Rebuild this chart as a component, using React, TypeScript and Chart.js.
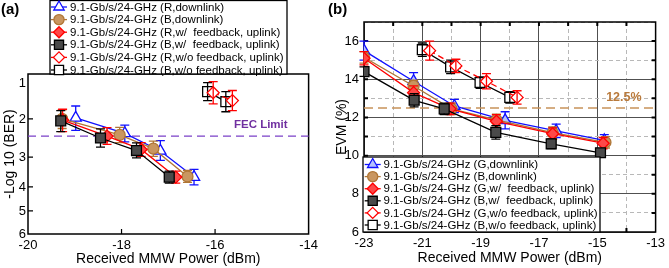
import React, { useEffect, useRef } from 'react';
import { Chart, registerables, LinearScale } from 'chart.js';
import { drawPoint } from 'chart.js/helpers';

const FONT = "'Liberation Sans', Arial, Helvetica, sans-serif";

// ---------------- Panel (a): -Log10(BER) vs received MMW power ----------------
const berLabels = [
  '9.1-Gb/s/24-GHz (R,downlink)',
  '9.1-Gb/s/24-GHz (B,downlink)',
  '9.1-Gb/s/24-GHz (R,w/  feedback, uplink)',
  '9.1-Gb/s/24-GHz (B,w/  feedback, uplink)',
  '9.1-Gb/s/24-GHz (R,w/o feedback, uplink)',
  '9.1-Gb/s/24-GHz (B,w/o feedback, uplink)',
];
const berBlueX = [-18.98, -17.93, -17.17, -16.45];
const berBlueY = [1.97, 2.38, 2.84, 3.67];
const berBlueErr = [0.33, 0.22, 0.27, 0.26];
const berTanX = [-19.27, -18.04, -17.32, -16.59];
const berTanY = [2.0, 2.42, 2.78, 3.65];
const berTanErr = [0.25, 0.2, 0.2, 0.2];
const berRedX = [-19.26, -18.31, -17.58, -16.84];
const berRedY = [2.03, 2.45, 2.8, 3.67];
const berRedErr = [0.3, 0.22, 0.18, 0.2];
const berBlackX = [-19.3, -18.45, -17.68, -16.98];
const berBlackY = [2.05, 2.5, 2.83, 3.67];
const berBlackErr = [0.28, 0.24, 0.2, 0.2];
const berRedOpenX = [-16.04, -15.63];
const berRedOpenY = [1.27, 1.49];
const berRedOpenErr = [0.31, 0.28];
const berBlackOpenX = [-16.16, -15.77];
const berBlackOpenY = [1.24, 1.52];
const berBlackOpenErr = [0.25, 0.28];
const berXTicks = [-20, -18, -16, -14];
const berYTicks = [1, 2, 3, 4, 5, 6];
const fecLimit = 2.45;

// ---------------- Panel (b): EVM vs received MMW power ----------------
const evmLabels = [
  '9.1-Gb/s/24-GHz (G,downlink)',
  '9.1-Gb/s/24-GHz (B,downlink)',
  '9.1-Gb/s/24-GHz (G,w/  feedback, uplink)',
  '9.1-Gb/s/24-GHz (B,w/  feedback, uplink)',
  '9.1-Gb/s/24-GHz (G,w/o feedback, uplink)',
  '9.1-Gb/s/24-GHz (B,w/o feedback, uplink)',
];
const evmBlueX = [-23, -21.3, -19.9, -18.16, -16.41, -14.76];
const evmBlueY = [15.5, 13.9, 12.6, 11.85, 11.3, 10.8];
const evmBlueErr = [0.5, 0.45, 0.35, 0.45, 0.35, 0.3];
const evmTanX = [-23, -21.3, -20.0, -18.46, -16.53, -14.72];
const evmTanY = [15.15, 13.65, 12.45, 11.87, 11.2, 10.7];
const evmTanErr = [0.3, 0.3, 0.3, 0.3, 0.3, 0.3];
const evmRedX = [-23, -21.3, -20.05, -18.46, -16.53, -14.8];
const evmRedY = [15.1, 13.3, 12.45, 11.8, 11.15, 10.65];
const evmRedErr = [0.35, 0.35, 0.3, 0.35, 0.3, 0.3];
const evmBlackX = [-23, -21.28, -20.25, -18.48, -16.58, -14.89];
const evmBlackY = [14.4, 12.9, 12.45, 11.22, 10.62, 10.15];
const evmBlackErr = [0.25, 0.35, 0.3, 0.35, 0.25, 0.2];
const evmRedOpenX = [-20.75, -19.85, -18.8, -17.75];
const evmRedOpenY = [15.5, 14.7, 13.9, 13.05];
const evmRedOpenErr = [0.5, 0.35, 0.4, 0.35];
const evmBlackOpenX = [-21.0, -20.03, -19.02, -18.0];
const evmBlackOpenY = [15.55, 14.65, 13.83, 13.05];
const evmBlackOpenErr = [0.35, 0.35, 0.3, 0.3];
const evmLimit = 12.5;

// ---------------- BER axis (non-uniform -log10 BER scale) ----------------
const BER_ANCHOR_VALUES = [0.75, 1, 2, 3, 4, 5, 6];
const BER_ANCHOR_FRACTIONS = [1, 0.944, 0.719, 0.481, 0.294, 0.144, 0];

function piecewise(xs: number[], ys: number[], v: number) {
  const n = xs.length;
  const asc = xs[n - 1] > xs[0];
  let i = 0;
  while (i < n - 2 && (asc ? v > xs[i + 1] : v < xs[i + 1])) i++;
  const t = (v - xs[i]) / (xs[i + 1] - xs[i]);
  return ys[i] + t * (ys[i + 1] - ys[i]);
}

class BerScale extends LinearScale {
  static id = 'ber';
  static defaults = LinearScale.defaults;
  getPixelForValue(value: any) {
    if (value === null || value === undefined || isNaN(value)) return NaN;
    return this.getPixelForDecimal(piecewise(BER_ANCHOR_VALUES, BER_ANCHOR_FRACTIONS, value));
  }
  getValueForPixel(pixel: number) {
    return piecewise(BER_ANCHOR_FRACTIONS, BER_ANCHOR_VALUES, this.getDecimalForPixel(pixel));
  }
}

Chart.register(...registerables, BerScale as any);

// ---------------- plugins ----------------
function drawErrors(chart: any, index: number) {
  const ds = chart.data.datasets[index];
  const errs: number[] = ds.errors;
  if (!errs) return;
  const { ctx } = chart;
  const xs = chart.scales.x;
  const ys = chart.scales.y;
  const cap = 4.5;
  ctx.save();
  ctx.strokeStyle = ds.borderColor;
  ctx.lineWidth = 1.3;
  ctx.setLineDash([]);
  ds.data.forEach((p: any, j: number) => {
    const e = errs[j];
    const px = xs.getPixelForValue(p.x);
    const y1 = ys.getPixelForValue(p.y + e);
    const y2 = ys.getPixelForValue(p.y - e);
    ctx.beginPath();
    ctx.moveTo(px, y1);
    ctx.lineTo(px, y2);
    ctx.moveTo(px - cap, y1);
    ctx.lineTo(px + cap, y1);
    ctx.moveTo(px - cap, y2);
    ctx.lineTo(px + cap, y2);
    ctx.stroke();
  });
  ctx.restore();
}

const errorBarPlugin = {
  id: 'errorBars',
  beforeDatasetDraw(chart: any, args: any) {
    if (!chart.data.datasets[args.index].errOnTop) drawErrors(chart, args.index);
  },
  afterDatasetDraw(chart: any, args: any) {
    if (chart.data.datasets[args.index].errOnTop) drawErrors(chart, args.index);
  },
};

const framePlugin = {
  id: 'frame',
  beforeDatasetsDraw(chart: any, _args: any, o: any) {
    const { ctx, chartArea: a } = chart;
    ctx.save();
    ctx.strokeStyle = '#000';
    ctx.setLineDash([]);
    ctx.lineWidth = o.tickWidth;
    const len = o.tickLength;
    const skip: number[] = o.skip || [];
    const xs = chart.scales.x;
    const ys = chart.scales.y;
    ctx.beginPath();
    xs.ticks.forEach((t: any) => {
      const px = xs.getPixelForValue(t.value);
      if (px <= a.left + 1 || px >= a.right - 1) return;
      if (o.xSides.includes('bottom')) { ctx.moveTo(px, a.bottom); ctx.lineTo(px, a.bottom - len); }
      if (o.xSides.includes('top')) { ctx.moveTo(px, a.top); ctx.lineTo(px, a.top + len); }
    });
    ys.ticks.forEach((t: any) => {
      if (skip.includes(t.value)) return;
      const py = ys.getPixelForValue(t.value);
      if (py <= a.top + 1 || py >= a.bottom - 1) return;
      if (o.ySides.includes('left')) { ctx.moveTo(a.left, py); ctx.lineTo(a.left + len, py); }
      if (o.ySides.includes('right')) { ctx.moveTo(a.right, py); ctx.lineTo(a.right - len, py); }
    });
    ctx.stroke();
    ctx.lineWidth = o.lineWidth;
    ctx.strokeRect(a.left, a.top, a.right - a.left, a.bottom - a.top);
    ctx.restore();
  },
};

const refLinePlugin = {
  id: 'refLine',
  beforeDatasetsDraw(chart: any, _args: any, o: any) {
    const { ctx, chartArea: a } = chart;
    const y = chart.scales.y.getPixelForValue(o.value);
    ctx.save();
    ctx.strokeStyle = o.color;
    ctx.lineWidth = o.width;
    ctx.setLineDash(o.dash);
    ctx.beginPath();
    ctx.moveTo(a.left, y);
    ctx.lineTo(a.right, y);
    ctx.stroke();
    ctx.setLineDash([]);
    ctx.fillStyle = o.textColor;
    ctx.font = o.font;
    ctx.textAlign = 'right';
    ctx.textBaseline = 'middle';
    ctx.fillText(o.text, a.right - o.textGap, y + o.textDy);
    ctx.restore();
  },
};

const panelLabelPlugin = {
  id: 'panelLabel',
  afterDraw(chart: any, _args: any, o: any) {
    const { ctx } = chart;
    ctx.save();
    ctx.fillStyle = '#000';
    ctx.font = `bold 15px ${FONT}`;
    ctx.textAlign = 'left';
    ctx.textBaseline = 'middle';
    ctx.fillText(o.text, o.x, o.y);
    ctx.restore();
  },
};

const boxLegendPlugin = {
  id: 'boxLegend',
  afterDatasetsDraw(chart: any, _args: any, o: any) {
    const { ctx } = chart;
    ctx.save();
    ctx.fillStyle = '#fff';
    ctx.fillRect(o.x, o.y, o.w, o.h);
    ctx.strokeStyle = '#000';
    ctx.lineWidth = 1.3;
    ctx.setLineDash([]);
    ctx.strokeRect(o.x, o.y, o.w, o.h);
    chart.data.datasets.forEach((ds: any, i: number) => {
      const cy = o.y + o.firstRow + i * o.rowH;
      ctx.strokeStyle = ds.borderColor;
      ctx.lineWidth = 1.3;
      ctx.setLineDash([]);
      ctx.beginPath();
      ctx.moveTo(o.markerX - o.lineHalf, cy);
      ctx.lineTo(o.markerX + o.lineHalf, cy);
      ctx.stroke();
      ctx.fillStyle = ds.pointBackgroundColor;
      ctx.strokeStyle = ds.pointBorderColor;
      ctx.lineWidth = ds.pointBorderWidth;
      drawPoint(ctx, { pointStyle: ds.pointStyle, rotation: 0, radius: ds.pointRadius * 0.92, borderWidth: ds.pointBorderWidth } as any, o.markerX, cy);
      ctx.fillStyle = '#000';
      ctx.font = o.font;
      ctx.textAlign = 'left';
      ctx.textBaseline = 'middle';
      ctx.fillText(ds.label, o.textX, cy + 0.5);
    });
    ctx.restore();
  },
};

// ---------------- series styles ----------------
type SeriesStyle = { color: string; pointStyle: string; fill: string; radius: number; dash?: number[]; open?: boolean };
const stylesA: SeriesStyle[] = [
  { color: '#1010ff', pointStyle: 'triangle', fill: '#ffffff', radius: 6.5 },
  { color: '#b07636', pointStyle: 'circle', fill: '#c99660', radius: 5.5 },
  { color: '#ff0000', pointStyle: 'rectRot', fill: '#ff4848', radius: 6 },
  { color: '#000000', pointStyle: 'rect', fill: '#4a4a4a', radius: 7 },
  { color: '#ff0000', pointStyle: 'rectRot', fill: '#ffffff', radius: 6, dash: [6, 4], open: true },
  { color: '#000000', pointStyle: 'rect', fill: '#ffffff', radius: 7, open: true },
];
const stylesB: SeriesStyle[] = stylesA.map((s, i) => (i === 0 ? { ...s, fill: '#b4c0ff' } : s));
const drawOrder = [6, 5, 4, 3, 1, 2];

function buildDatasets(labels: string[], xs: number[][], ys: number[][], errs: number[][], styles: SeriesStyle[]) {
  return labels.map((label, i) => ({
    label,
    data: xs[i].map((x, j) => ({ x, y: ys[i][j] })),
    errors: errs[i],
    errOnTop: !!styles[i].open,
    showLine: true,
    borderColor: styles[i].color,
    borderWidth: 1.3,
    borderDash: styles[i].dash || [],
    pointStyle: styles[i].pointStyle,
    pointRadius: styles[i].radius,
    pointHoverRadius: styles[i].radius,
    pointBackgroundColor: styles[i].fill,
    pointBorderColor: styles[i].color,
    pointBorderWidth: 1.3,
    order: drawOrder[i],
  }));
}

const tickFont = { family: FONT, size: 13 };
const titleFont = { family: FONT, size: 14 };

function configA(): any {
  return {
    type: 'scatter',
    data: {
      datasets: buildDatasets(
        berLabels,
        [berBlueX, berTanX, berRedX, berBlackX, berRedOpenX, berBlackOpenX],
        [berBlueY, berTanY, berRedY, berBlackY, berRedOpenY, berBlackOpenY],
        [berBlueErr, berTanErr, berRedErr, berBlackErr, berRedOpenErr, berBlackOpenErr],
        stylesA,
      ),
    },
    options: {
      responsive: false,
      animation: false,
      devicePixelRatio: 1,
      layout: { padding: { left: 0, top: 74, right: 12, bottom: 0 } },
      plugins: {
        legend: { display: false },
        tooltip: { enabled: false },
        frame: { lineWidth: 1.5, tickWidth: 1.2, tickLength: 5, xSides: ['bottom'], ySides: ['left'], skip: [1] },
        refLine: {
          value: fecLimit, color: '#7b40c8', width: 1.3, dash: [8, 5],
          text: 'FEC Limit', textColor: '#7030a0', font: `bold 11.5px ${FONT}`, textGap: 21, textDy: -11.5,
        },
        panelLabel: { text: '(a)', x: 1, y: 10 },
        boxLegend: {
          x: 50, y: 0.5, w: 237, h: 73.5, firstRow: 6.5, rowH: 12.6,
          markerX: 59, lineHalf: 8, textX: 70, font: `11.5px ${FONT}`,
        },
      },
      scales: {
        x: {
          type: 'linear',
          min: berXTicks[0],
          max: berXTicks[berXTicks.length - 1],
          afterFit: (s: any) => { s.height = 34; },
          afterBuildTicks: (s: any) => { s.ticks = berXTicks.map((v) => ({ value: v })); },
          grid: { display: false, drawTicks: false },
          border: { display: false },
          ticks: { font: tickFont, color: '#000', padding: 4, maxRotation: 0, autoSkip: false },
          title: { display: true, text: 'Received MMW Power (dBm)', font: titleFont, color: '#000', padding: 0 },
        },
        y: {
          type: 'ber',
          min: berYTicks[0],
          max: berYTicks[berYTicks.length - 1],
          afterFit: (s: any) => { s.width = 28; },
          afterBuildTicks: (s: any) => { s.ticks = berYTicks.map((v) => ({ value: v })); },
          grid: { display: false, drawTicks: false },
          border: { display: false },
          ticks: { font: tickFont, color: '#000', padding: 2, autoSkip: false },
          title: { display: true, text: '-Log 10 (BER)', font: titleFont, color: '#000', padding: { top: 2, bottom: 0 } },
        },
      },
    },
    plugins: [errorBarPlugin, framePlugin, refLinePlugin, panelLabelPlugin, boxLegendPlugin],
  };
}

const isMajorX = (v: number) => Math.abs(v) % 2 === 1;
const isMajorY = (v: number) => v % 2 === 0;

function configB(): any {
  return {
    type: 'scatter',
    data: {
      datasets: buildDatasets(
        evmLabels,
        [evmBlueX, evmTanX, evmRedX, evmBlackX, evmRedOpenX, evmBlackOpenX],
        [evmBlueY, evmTanY, evmRedY, evmBlackY, evmRedOpenY, evmBlackOpenY],
        [evmBlueErr, evmTanErr, evmRedErr, evmBlackErr, evmRedOpenErr, evmBlackOpenErr],
        stylesB,
      ),
    },
    options: {
      responsive: false,
      animation: false,
      devicePixelRatio: 1,
      layout: { padding: { left: 0, top: 22, right: 10, bottom: 0 } },
      plugins: {
        legend: { display: false },
        tooltip: { enabled: false },
        frame: { lineWidth: 1.5, tickWidth: 2, tickLength: 4, xSides: ['bottom', 'top'], ySides: ['left', 'right'] },
        refLine: {
          value: evmLimit, color: '#c8925a', width: 1.5, dash: [9, 5],
          text: '12.5%', textColor: '#b97a3c', font: `bold 12.5px ${FONT}`, textGap: 14, textDy: -10.5,
        },
        panelLabel: { text: '(b)', x: 6, y: 10 },
        boxLegend: {
          x: 41, y: 157, w: 237, h: 75, firstRow: 7.5, rowH: 12.1,
          markerX: 50.7, lineHalf: 8, textX: 61.5, font: `11.5px ${FONT}`,
        },
      },
      scales: {
        x: {
          type: 'linear',
          min: -23,
          max: -13,
          afterFit: (s: any) => { s.height = 36; },
          grid: {
            display: true, drawTicks: false, lineWidth: 1,
            color: (c: any) => (c.tick && isMajorX(c.tick.value) ? '#505050' : '#b8b8b8'),
          },
          border: { display: false, dash: (c: any) => (c.tick && !isMajorX(c.tick.value) ? [4, 3] : []) },
          ticks: {
            stepSize: 1, font: tickFont, color: '#000', padding: 4, maxRotation: 0, autoSkip: false,
            callback: (v: any) => (isMajorX(v) ? String(v) : ''),
          },
          title: { display: true, text: 'Received MMW Power (dBm)', font: titleFont, color: '#000', padding: { top: 0, bottom: 1.5 } },
        },
        y: {
          type: 'linear',
          min: 6,
          max: 17,
          afterFit: (s: any) => { s.width = 42; },
          grid: {
            display: true, drawTicks: false, lineWidth: 1,
            color: (c: any) => (c.tick && isMajorY(c.tick.value) ? '#505050' : '#b8b8b8'),
          },
          border: { display: false, dash: (c: any) => (c.tick && !isMajorY(c.tick.value) ? [4, 3] : []) },
          ticks: {
            stepSize: 1, font: tickFont, color: '#000', padding: 5, autoSkip: false,
            callback: (v: any) => (isMajorY(v) ? String(v) : ''),
          },
          title: { display: true, text: 'EVM (%)', font: titleFont, color: '#000', padding: { top: 12, bottom: 0 } },
        },
      },
    },
    plugins: [errorBarPlugin, framePlugin, refLinePlugin, panelLabelPlugin, boxLegendPlugin],
  };
}

export default function App() {
  const refA = useRef<HTMLCanvasElement>(null);
  const refB = useRef<HTMLCanvasElement>(null);
  useEffect(() => {
    const a = new Chart(refA.current as HTMLCanvasElement, configA());
    const b = new Chart(refB.current as HTMLCanvasElement, configB());
    return () => {
      a.destroy();
      b.destroy();
    };
  }, []);
  return (
    <div style={{ position: 'absolute', left: 0, top: 0, width: 669, height: 268, background: '#fff' }}>
      <canvas ref={refA} width={322} height={268} style={{ position: 'absolute', left: 0, top: 0, width: 322, height: 268 }} />
      <canvas ref={refB} width={347} height={268} style={{ position: 'absolute', left: 322, top: 0, width: 347, height: 268 }} />
    </div>
  );
}
